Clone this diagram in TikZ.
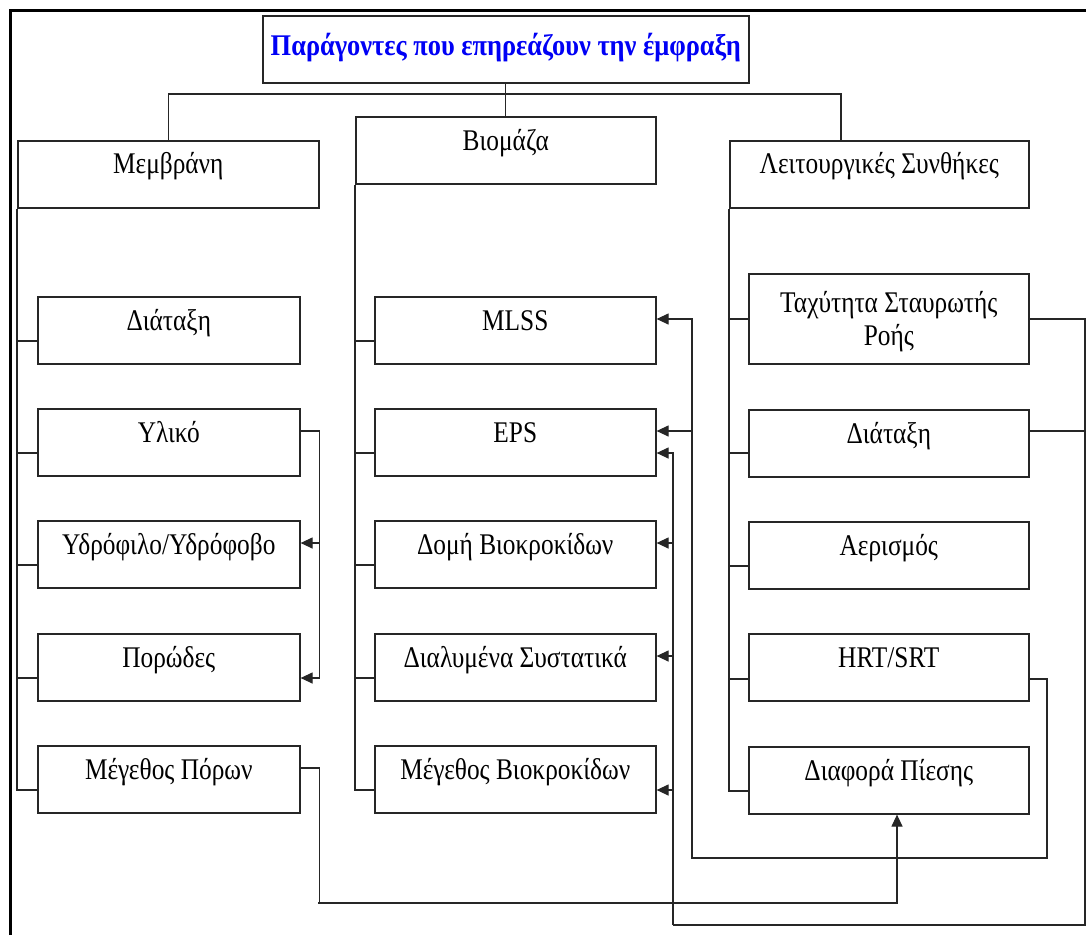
\documentclass[tikz,border=0pt]{standalone}
\usepackage{fontspec}
\setmainfont{Liberation Serif}[FakeStretch=0.845]
\newfontfamily\headfont{Liberation Serif}[FakeStretch=0.88]
\usetikzlibrary{arrows.meta,calc}
\definecolor{titleblue}{RGB}{0,0,245}
\tikzset{
  box/.style={draw=black!85, line width=1.6pt, anchor=north west, inner sep=0pt,
    minimum height=67pt, align=center, text height=18pt, text depth=17pt,
    font=\fontsize{30}{33}\selectfont},
  conn/.style={draw=black!85, line width=1.2pt},
  arr/.style={conn, -{Triangle[length=12pt,width=11pt]}},
  frame/.style={line width=3pt, black}
}
\begin{document}
\begin{tikzpicture}[x=1pt,y=-1pt]
\useasboundingbox (0,0) rectangle (1086,935);
% outer frame (top and left edges)
\draw[frame] (10,935) -- (10,10.5) -- (1086,10.5);

% title and the three groups
\node[box, minimum width=486pt, text depth=5pt, font=\headfont\bfseries\fontsize{30}{33}\selectfont,
  text=titleblue] (title) at (262,15) {Παράγοντες που επηρεάζουν την έμφραξη};
\node[box, minimum width=301pt, text depth=20pt] (memb) at (17,140) {Μεμβράνη};
\node[box, minimum width=300pt] (bio) at (355,116) {Βιομάζα};
\node[box, minimum width=299pt, text depth=20pt] (cond) at (729,140) {Λειτουργικές Συνθήκες};

% membrane factors
\node[box, minimum width=262pt] (mdiat) at (37,296) {Διάταξη};
\node[box, minimum width=262pt] (ylik) at (37,408) {Υλικό};
\node[box, minimum width=262pt] (udro) at (37,520) {Υδρόφιλο/Υδρόφοβο};
\node[box, minimum width=262pt] (poro) at (37,633) {Πορώδες};
\node[box, minimum width=262pt] (mpor) at (37,745) {Μέγεθος Πόρων};

% biomass factors
\node[box, minimum width=281pt] (mlss) at (374,296) {MLSS};
\node[box, minimum width=281pt] (eps) at (374,408) {EPS};
\node[box, minimum width=281pt] (domi) at (374,520) {Δομή Βιοκροκίδων};
\node[box, minimum width=281pt] (dial) at (374,633) {Διαλυμένα Συστατικά};
\node[box, minimum width=281pt] (mbio) at (374,745) {Μέγεθος Βιοκροκίδων};

% operating conditions
\node[box, minimum width=280pt, minimum height=90pt, text height=54pt, text depth=0pt]
  (tach) at (748,273) {Ταχύτητα Σταυρωτής\\Ροής};
\node[box, minimum width=280pt] (cdiat) at (748,409) {Διάταξη};
\node[box, minimum width=280pt] (aeri) at (748,521) {Αερισμός};
\node[box, minimum width=280pt] (hrt) at (748,633) {HRT/SRT};
\node[box, minimum width=280pt] (diaf) at (748,746) {Διαφορά Πίεσης};

% top level bus
\coordinate (bus) at (504,94);
\coordinate (rdrop) at (841,140);
\draw[conn] (title.south) -- (bio.north);
\draw[conn] (memb.north) |- (bus) -| (rdrop);

% group spines
\foreach \grp/\lst in {memb/{mdiat,ylik,udro,poro,mpor}, bio/{mlss,eps,domi,dial,mbio}}{
  \foreach \c in \lst{
    \draw[conn] (\grp.south west) |- ([yshift=-45pt]\c.north west);
  }
}
\foreach \c/\d in {tach/46, cdiat/44, aeri/45, hrt/46, diaf/45}{
  \draw[conn] (cond.south west) |- ([yshift=-\d pt]\c.north west);
}

% material -> hydrophilicity, porosity
\coordinate (ylo) at ([yshift=-23pt]ylik.north east);
\coordinate (vL) at ([xshift=19pt]ylo);
\coordinate (udi) at ([yshift=-23pt]udro.north east);
\coordinate (poi) at ([yshift=-45pt]poro.north east);
\draw[arr] (ylo) -- (vL) |- (poi);
\draw[arr] (udi -| vL) -- (udi);

% pore size -> pressure difference
\coordinate (mpo) at ([yshift=-23pt]mpor.north east);
\coordinate (low1) at (318,903);
\draw[arr] (mpo) -- ++(19,0) |- (low1) -| (diaf.south -| 897,0);

% cross flow velocity, configuration -> biomass
\coordinate (tao) at ([yshift=-46pt]tach.north east);
\coordinate (cdo) at ([yshift=-22pt]cdiat.north east);
\coordinate (vR) at (1085,925);
\coordinate (vA) at (673,925);
\coordinate (epsb) at ([yshift=-45pt]eps.north east);
\coordinate (domi1) at ([yshift=-23pt]domi.north east);
\coordinate (dial1) at ([yshift=-23pt]dial.north east);
\coordinate (mbio1) at ([yshift=-45pt]mbio.north east);
\draw[conn] (tao) -| (vR) -- (vA);
\draw[conn] (cdo) -- (cdo -| vR);
\draw[arr] (vA) |- (epsb);
\foreach \p in {domi1, dial1, mbio1}{
  \draw[arr] (\p -| vA) -- (\p);
}

% HRT/SRT -> MLSS, EPS
\coordinate (hro) at ([yshift=-46pt]hrt.north east);
\coordinate (vH) at (1047,858);
\coordinate (vB) at (692,858);
\coordinate (mlss1) at ([yshift=-23pt]mlss.north east);
\coordinate (epsa) at ([yshift=-23pt]eps.north east);
\draw[arr] (hro) -| (vH) -- (vB) |- (mlss1);
\draw[arr] (epsa -| vB) -- (epsa);
\end{tikzpicture}
\end{document}
